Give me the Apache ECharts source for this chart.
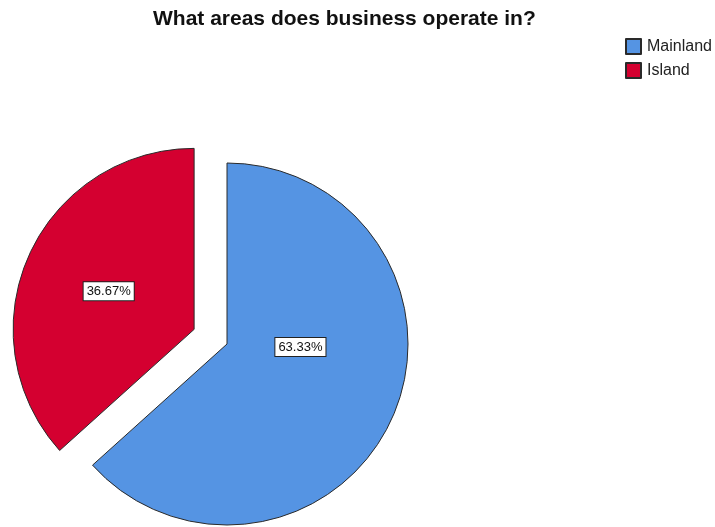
<!DOCTYPE html>
<html>
<head>
<meta charset="utf-8">
<script src="https://cdn.jsdelivr.net/npm/echarts@6/dist/echarts.min.js"></script>
<style>html,body{margin:0;padding:0;background:#fff}#c{width:715px;height:527px}</style>
</head>
<body>
<div id="c"></div>
<script>
const titleText = 'What areas does business operate in?';
const categories = ['Mainland', 'Island'];
const percents = [63.33, 36.67];
const explodedCategory = 'Island';

const colors = ['#5594e3', '#d40030'];
const labelOffsets = [[-12, -35], [-1, -1]];

const chart = echarts.init(document.getElementById('c'), null, {renderer: 'canvas'});
const data = categories.map((name, i) => ({
  name: name,
  value: percents[i],
  selected: name === explodedCategory,
  itemStyle: {color: colors[i]},
  label: {offset: labelOffsets[i]}
}));
chart.setOption({
  animation: false,
  title: {
    text: titleText,
    left: 148,
    top: 4,
    textStyle: {fontFamily: 'Liberation Sans', fontSize: 21, fontWeight: 'bold', color: '#111'}
  },
  legend: {
    orient: 'vertical',
    left: 620,
    top: 33,
    itemWidth: 15,
    itemHeight: 15,
    itemGap: 7,
    icon: 'rect',
    selectedMode: false,
    textStyle: {fontFamily: 'Liberation Sans', fontSize: 16, color: '#222', padding: [0, 0, 0, 1]},
    data: categories
  },
  series: [{
    type: 'pie',
    center: [227, 344],
    radius: [0, 181],
    startAngle: 90,
    clockwise: true,
    selectedMode: 'single',
    selectedOffset: 36,
    avoidLabelOverlap: false,
    itemStyle: {borderColor: '#2a2a2a', borderWidth: 1},
    emphasis: {disabled: true},
    label: {
      show: true,
      position: 'inside',
      formatter: p => p.value.toFixed(2) + '%',
      fontFamily: 'Liberation Sans',
      fontSize: 13,
      color: '#111',
      backgroundColor: '#fff',
      borderColor: '#222',
      borderWidth: 1,
      padding: [3, 3, 2, 3]
    },
    labelLine: {show: false},
    data: data
  }]
});
</script>
</body>
</html>
